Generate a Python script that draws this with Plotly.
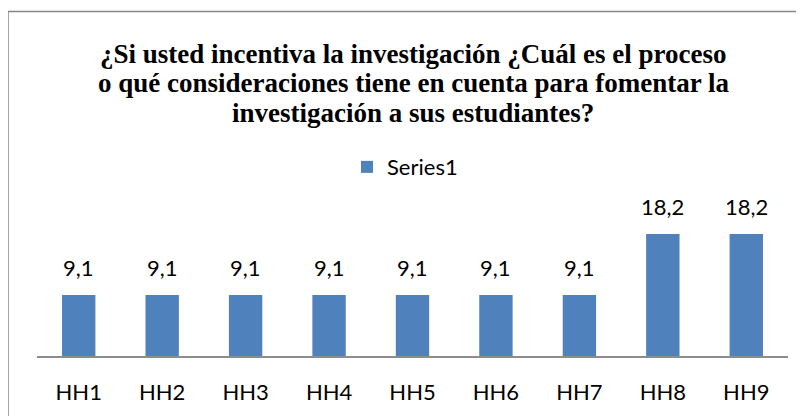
import plotly.graph_objects as go

categories = ["HH1", "HH2", "HH3", "HH4", "HH5", "HH6", "HH7", "HH8", "HH9"]
values = [9.1, 9.1, 9.1, 9.1, 9.1, 9.1, 9.1, 18.2, 18.2]
value_labels = ["9,1", "9,1", "9,1", "9,1", "9,1", "9,1", "9,1", "18,2", "18,2"]
series_name = "Series1"
title_lines = [
    "¿Si usted incentiva la investigación ¿Cuál es el proceso",
    "o qué consideraciones tiene en cuenta para fomentar la",
    "investigación a sus estudiantes?",
]

fig = go.Figure()
fig.add_trace(go.Bar(
    x=categories, y=values, name=series_name,
    marker=dict(color="#4F81BD", line=dict(width=0)),
    showlegend=True,
))

for c, v, t in zip(categories, values, value_labels):
    fig.add_annotation(x=c, y=v, text=t, showarrow=False, xref="x", yref="y",
                       yanchor="bottom", yshift=12,
                       font=dict(family="Lato", size=22, color="#000000"))

# title, one annotation per line (paper coordinates above the plot area)
title_y = [2.2537, 2.0373, 1.8134]
for line, ty in zip(title_lines, title_y):
    fig.add_annotation(x=0.5007, y=ty, xref="paper", yref="paper", text="<b>" + line + "</b>",
                       showarrow=False, xanchor="center", yanchor="middle",
                       font=dict(family="Liberation Serif", size=27, color="#000000"))

fig.update_layout(
    width=804, height=416,
    margin=dict(l=29, r=24, t=214, b=68),
    paper_bgcolor="white", plot_bgcolor="white",
    bargap=0.6,
    legend=dict(orientation="h", x=0.49, xanchor="center", y=1.41, yanchor="middle",
                font=dict(family="Lato", size=22, color="#000000"),
                bgcolor="rgba(0,0,0,0)"),
    xaxis=dict(showline=True, linecolor="#8C8C8C", linewidth=2, ticks="",
               showgrid=False, tickfont=dict(family="Lato", size=22, color="#000000"),
               ticklabelstandoff=16),
    yaxis=dict(range=[0, 20], visible=False, showgrid=False),
    shapes=[dict(type="rect", xref="paper", yref="paper",
                 x0=-0.0386, x1=1.03, y0=-0.52, y1=2.571,
                 line=dict(color="#888888", width=1.5), fillcolor="rgba(0,0,0,0)")],
)

fig.write_html("out.html")
